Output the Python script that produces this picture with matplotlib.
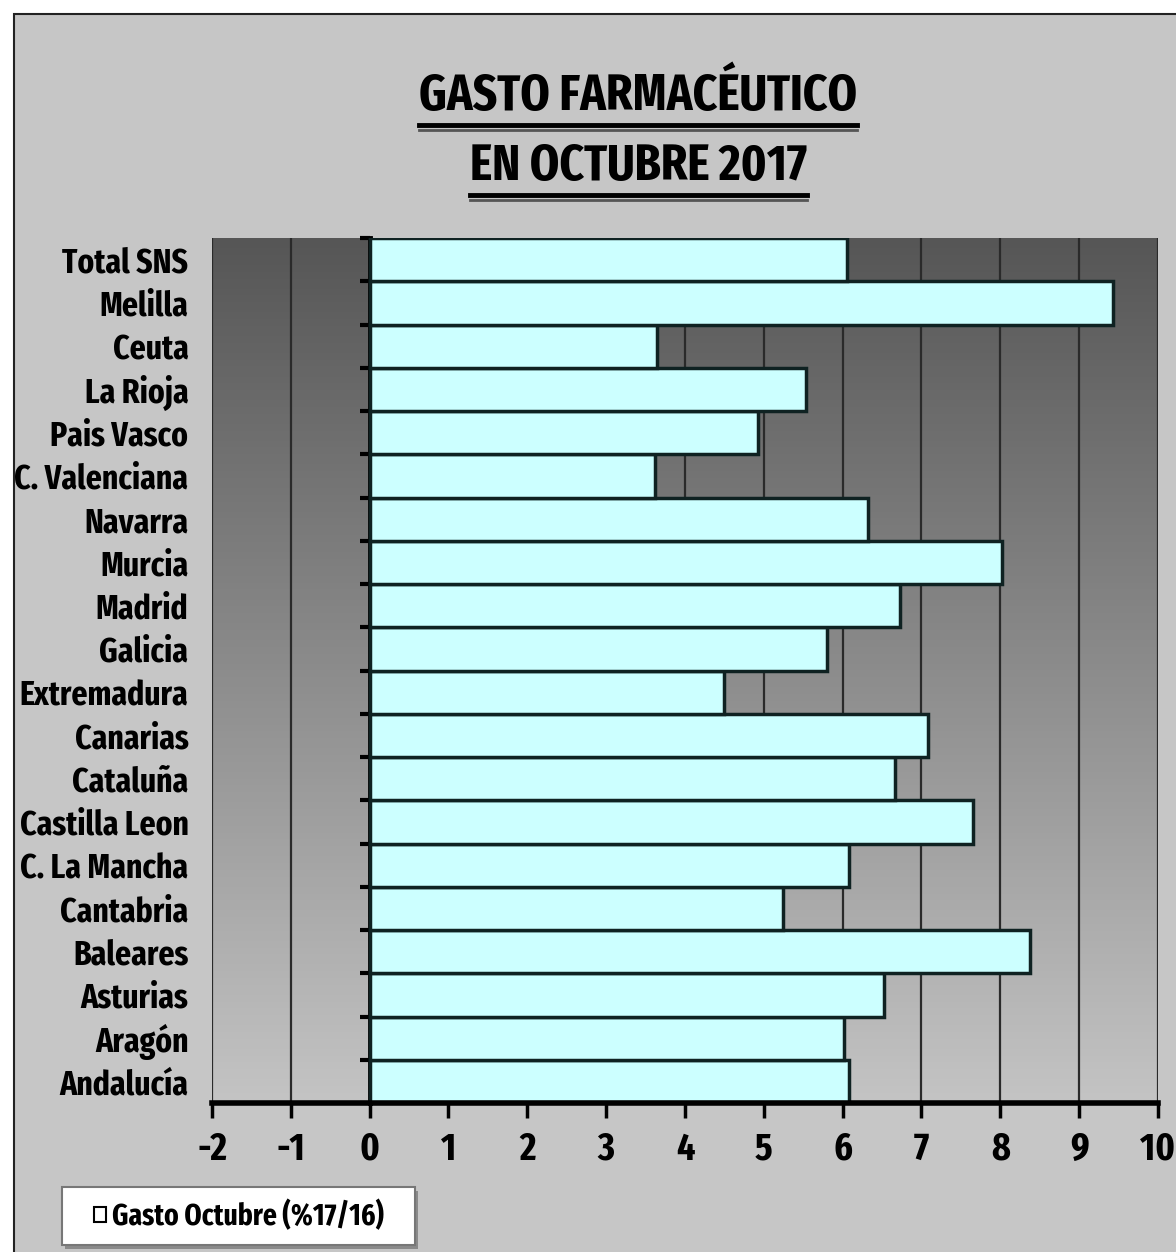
import matplotlib.pyplot as plt
import numpy as np
from matplotlib.patches import Rectangle
from matplotlib.lines import Line2D
from matplotlib.colors import LinearSegmentedColormap

# Datos (de abajo hacia arriba)
regiones = ["Andalucía", "Aragón", "Asturias", "Baleares", "Cantabria", "C. La Mancha",
            "Castilla Leon", "Cataluña", "Canarias", "Extremadura", "Galicia", "Madrid",
            "Murcia", "Navarra", "C. Valenciana", "Pais Vasco", "La Rioja", "Ceuta",
            "Melilla", "Total SNS"]
gasto = [6.08, 6.02, 6.52, 8.38, 5.24, 6.08, 7.65, 6.67, 7.08, 4.50, 5.80, 6.73,
         8.02, 6.32, 3.62, 4.92, 5.53, 3.64, 9.43, 6.05]
xticks = list(range(-2, 11))
XMIN, XMAX = -2, 10

plt.rcParams["font.family"] = ["Fira Sans Extra Condensed", "Roboto Condensed", "DejaVu Sans"]
plt.rcParams["font.weight"] = "bold"
plt.rcParams["axes.unicode_minus"] = False

W, H = 1176, 1252
fig = plt.figure(figsize=(W / 100, H / 100), dpi=100)
fig.patch.set_facecolor("white")
r = fig.canvas.get_renderer()


def tam_para(texto, ancho_px, base=20):
    # tamaño de letra para que el texto ocupe ancho_px
    t = fig.text(0, 0, texto, fontsize=base)
    w = t.get_window_extent(r).width
    t.remove()
    return base * ancho_px / w


fs_cat = tam_para("C. Valenciana", 174)
fs_tit = tam_para("GASTO FARMACÉUTICO", 438)
fs_leg = tam_para("Gasto Octubre (%17/16)", 272)
fs_tick = tam_para("10", 35)

# Panel gris del gráfico
panel = Rectangle((14 / W, -0.01), 1.02 - 14 / W, 1 - 14 / H + 0.01, transform=fig.transFigure,
                  facecolor="#c6c6c6", edgecolor="#222222", linewidth=1.5, zorder=-1)
fig.patches.append(panel)

ax = fig.add_axes([212 / W, 149 / H, 946 / W, 865 / H])
ax.set_facecolor("none")

# Degradado del área de trazado (oscuro arriba, claro abajo)
grad = np.linspace(0, 1, 256).reshape(-1, 1)
cmap = LinearSegmentedColormap.from_list("fondo", ["#565656", "#8c8c8c", "#c4c4c4"])
ax.imshow(grad, cmap=cmap, aspect="auto", extent=[0, 1, 0, 1], transform=ax.transAxes,
          zorder=0, origin="upper")

y = np.arange(len(regiones))
ax.barh(y, gasto, height=1.0, color="#ccffff", edgecolor="#0f2222", linewidth=2.5, zorder=3)

ax.set_xlim(XMIN, XMAX)
ax.set_ylim(-0.5, len(regiones) - 0.5)

# Rejilla vertical
ax.set_xticks(xticks)
ax.grid(axis="x", color="#2a2a2a", linewidth=1.6, zorder=1)
ax.set_axisbelow(True)

for s in ["top", "right", "left"]:
    ax.spines[s].set_visible(False)
ax.spines["bottom"].set_linewidth(4)
ax.spines["bottom"].set_zorder(5)
ax.tick_params(axis="x", direction="out", length=11, width=2.5, pad=9, labelsize=fs_tick)

ax.set_yticks(y)
ax.set_yticklabels(regiones)
ax.tick_params(axis="y", length=0, pad=17, labelsize=fs_cat)

# Eje vertical en x = 0
sec = ax.secondary_yaxis((0 - XMIN) / (XMAX - XMIN))
sec.set_yticks(np.arange(-0.5, len(regiones), 1.0))
sec.set_yticklabels([])
sec.spines["left"].set_linewidth(3.5)
sec.spines["left"].set_zorder(6)
sec.tick_params(axis="y", direction="out", length=7, width=3)

# Título subrayado
t1 = fig.text(638 / W, 1 - 97 / H, "GASTO FARMACÉUTICO", ha="center", va="center", fontsize=fs_tit)
t2 = fig.text(638 / W, 1 - 167 / H, "EN OCTUBRE 2017", ha="center", va="center", fontsize=fs_tit)
fig.canvas.draw()
for t in (t1, t2):
    bb = t.get_window_extent(r)
    for off, lw, col in [(3, 3.5, "black"), (8, 2.0, "#555555")]:
        yy = (bb.y0 - off) / H
        fig.add_artist(Line2D([bb.x0 / W, bb.x1 / W], [yy, yy], transform=fig.transFigure,
                              color=col, linewidth=lw))

# Leyenda: caja blanca con sombra (debajo de los ejes) y texto centrado
lx, ly, lw_, lh = 62, 7, 353, 58
fig.patches.append(Rectangle(((lx + 3) / W, (ly - 4) / H), lw_ / W, lh / H,
                             transform=fig.transFigure, facecolor="#8a8a8a",
                             edgecolor="none", zorder=-0.8))
fig.patches.append(Rectangle((lx / W, ly / H), lw_ / W, lh / H, transform=fig.transFigure,
                             facecolor="white", edgecolor="#777777", linewidth=1.5, zorder=-0.6))
leg = ax.legend(["Gasto Octubre (%17/16)"], loc="center",
                bbox_to_anchor=((lx + lw_ / 2) / W, (ly + lh / 2) / H),
                bbox_transform=fig.transFigure, frameon=False, fontsize=fs_leg,
                handlelength=0.4, handleheight=0.4, handletextpad=0.2, borderpad=0)
leg.set_zorder(10)
for h in leg.legend_handles:
    h.set_linewidth(1.5)
    h.set_edgecolor("black")
    h.set_facecolor("white")

fig.savefig("out.png", dpi=100)
